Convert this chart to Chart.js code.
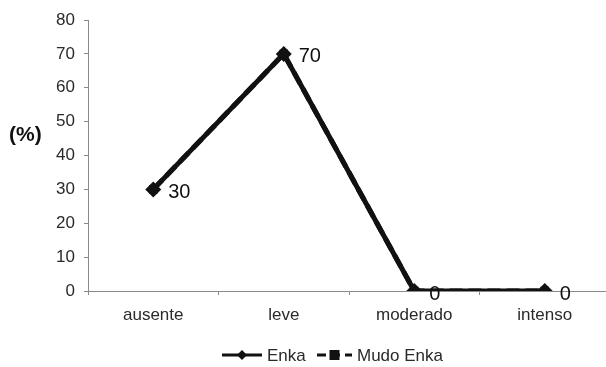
<!DOCTYPE html>
<html>
<head>
<meta charset="utf-8">
<script src="https://cdn.jsdelivr.net/npm/chart.js@4/dist/chart.umd.min.js"></script>
<style>
  html, body { margin: 0; padding: 0; background: #fff; overflow: hidden; }
  #wrap { width: 606px; height: 367px; position: relative; overflow: hidden; }
  #c { display: block; }
</style>
</head>
<body>
<!-- the category axis runs past the right edge of the frame, so the canvas is a little wider than its clipping box -->
<div id="wrap"><canvas id="c" width="618" height="367"></canvas></div>
<script>
const categories = ['ausente', 'leve', 'moderado', 'intenso'];
const enka = [30, 70, 0, 0];
const mudoEnka = [30, 70, 0, 0];
const seriesNames = ['Enka', 'Mudo Enka'];
const yTicks = [0, 10, 20, 30, 40, 50, 60, 70, 80];
const yTitle = '(%)';

const FONT = '"Liberation Sans", Arial, sans-serif';
const INK = '#111';
const TEXT = '#2a2a2a';
const AXIS = '#8a8a8a';

// value labels beside the points of the first series
const valueLabels = {
  id: 'valueLabels',
  afterDatasetsDraw(chart) {
    const ctx = chart.ctx;
    const meta = chart.getDatasetMeta(0);
    const data = chart.data.datasets[0].data;
    ctx.save();
    ctx.font = '20px ' + FONT;
    ctx.fillStyle = INK;
    ctx.textBaseline = 'middle';
    ctx.textAlign = 'left';
    meta.data.forEach((pt, i) => {
      ctx.fillText(String(data[i]), pt.x + 15, pt.y + 3);
    });
    ctx.restore();
  }
};

// unit caption beside the value axis and bottom legend with line + marker samples
const extras = {
  id: 'extras',
  afterDraw(chart) {
    const ctx = chart.ctx;
    ctx.save();
    ctx.font = 'bold 21px ' + FONT;
    ctx.fillStyle = INK;
    ctx.textBaseline = 'middle';
    ctx.textAlign = 'left';
    ctx.fillText(yTitle, 9, 135);

    // legend
    const y = 355;
    ctx.font = '17px ' + FONT;
    const samples = [
      { x0: 222, x1: 262, dash: [] },
      { x0: 317, x1: 352, dash: [9, 5] }
    ];
    chart.data.datasets.forEach((ds, i) => {
      const s = samples[i];
      ctx.strokeStyle = INK;
      ctx.lineWidth = 3;
      ctx.setLineDash(s.dash);
      ctx.beginPath();
      ctx.moveTo(s.x0, y);
      ctx.lineTo(s.x1, y);
      ctx.stroke();
      ctx.setLineDash([]);
      ctx.fillStyle = INK;
      const cx = (s.x0 + s.x1) / 2;
      ctx.beginPath();
      if (ds.pointStyle === 'rectRot') {
        ctx.moveTo(cx, y - 5); ctx.lineTo(cx + 5, y); ctx.lineTo(cx, y + 5); ctx.lineTo(cx - 5, y);
        ctx.closePath();
      } else {
        ctx.rect(cx - 5, y - 5, 10, 10);
      }
      ctx.fill();
      ctx.fillStyle = TEXT;
      ctx.fillText(ds.label, s.x1 + 5, y + 1);
    });
    ctx.restore();
  }
};

new Chart(document.getElementById('c'), {
  type: 'line',
  data: {
    labels: categories,
    datasets: [
      {
        label: seriesNames[0],
        data: enka,
        borderColor: INK,
        backgroundColor: INK,
        borderWidth: 5,
        pointStyle: 'rectRot',
        pointRadius: 8,
        pointBorderWidth: 0,
        tension: 0
      },
      {
        label: seriesNames[1],
        data: mudoEnka,
        borderColor: INK,
        backgroundColor: INK,
        borderWidth: 5,
        borderDash: [13, 6],
        pointStyle: 'rect',
        pointRadius: 6,
        pointBorderWidth: 0,
        tension: 0
      }
    ]
  },
  options: {
    responsive: false,
    animation: false,
    layout: { padding: { left: 0, right: 0, top: 20, bottom: 0 } },
    plugins: {
      legend: { display: false },
      tooltip: { enabled: false }
    },
    scales: {
      x: {
        offset: true,
        afterFit(axis) { axis.height = 76; },
        grid: { drawOnChartArea: false, drawTicks: true, tickLength: 4, color: AXIS, offset: true },
        border: { color: AXIS, width: 1 },
        ticks: { color: TEXT, font: { family: FONT, size: 17 }, padding: 10 }
      },
      y: {
        min: 0,
        max: 80,
        afterFit(axis) { axis.width = 88; },
        afterBuildTicks(axis) { axis.ticks = yTicks.map(v => ({ value: v })); },
        grid: { drawOnChartArea: false, drawTicks: true, tickLength: 4, color: AXIS },
        border: { color: AXIS, width: 1 },
        ticks: { color: TEXT, font: { family: FONT, size: 17 }, padding: 9 }
      }
    }
  },
  plugins: [valueLabels, extras]
});
</script>
</body>
</html>
